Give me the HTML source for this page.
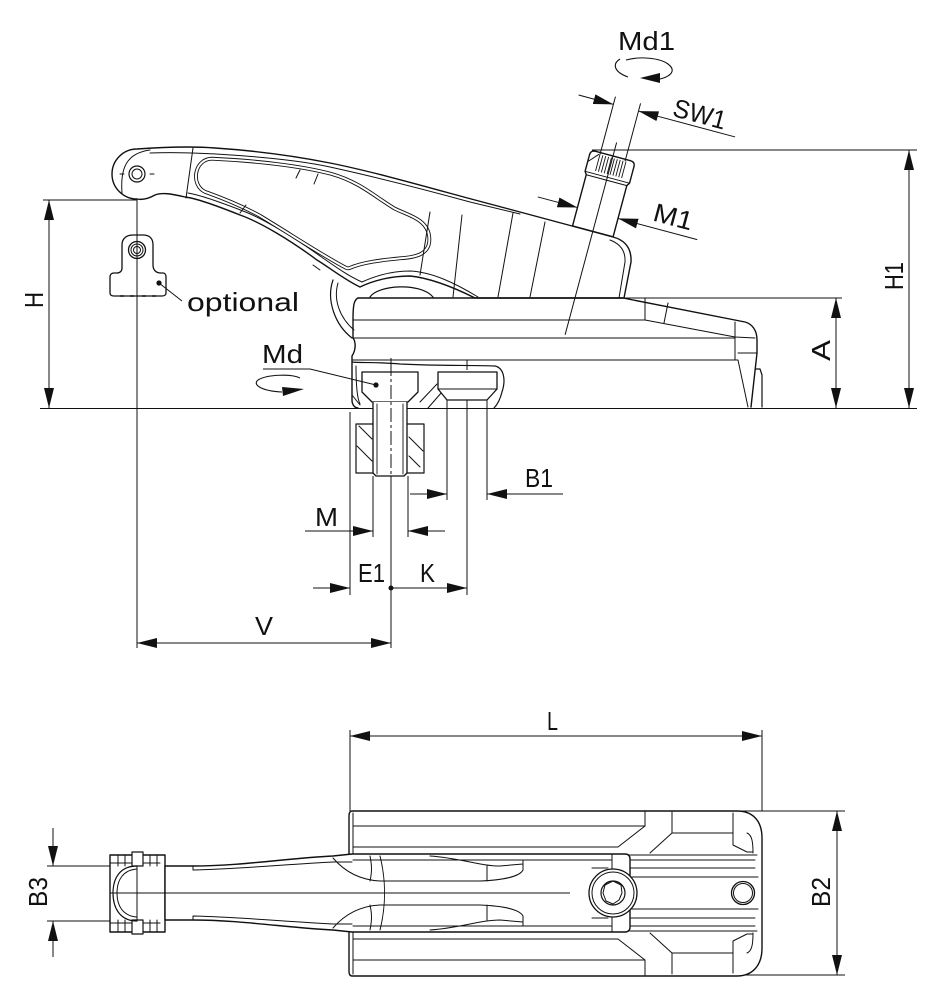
<!DOCTYPE html>
<html><head><meta charset="utf-8">
<style>
html,body{margin:0;padding:0;background:#fff;}
svg{display:block;}
text{font-family:"Liberation Sans","DejaVu Sans",sans-serif;font-size:26px;fill:#111;stroke:none;}
</style></head><body>
<svg width="928" height="1000" viewBox="0 0 928 1000" xmlns="http://www.w3.org/2000/svg">
<defs>
<marker id="ar" viewBox="0 0 20 10" refX="20" refY="5" markerWidth="20" markerHeight="10" markerUnits="userSpaceOnUse" orient="auto-start-reverse"><path d="M0,0L20,5L0,10z" fill="#111" stroke="none"/></marker>
</defs>
<rect width="928" height="1000" fill="#fff"/>

<!-- ============ DIMENSION / CENTER LINES (top view) ============ -->
<g fill="none" stroke="#111" stroke-width="1">
  <path d="M40,408.5H917"/>
  <path d="M43,200H137"/>
  <line x1="49" y1="200" x2="49" y2="408" marker-start="url(#ar)" marker-end="url(#ar)"/>
  <path d="M137,160V648"/>
  <path d="M592,150H917"/>
  <line x1="909" y1="150" x2="909" y2="408" marker-start="url(#ar)" marker-end="url(#ar)"/>
  <path d="M623,298H842"/>
  <line x1="836" y1="298" x2="836" y2="408" marker-start="url(#ar)" marker-end="url(#ar)"/>
  <line x1="137" y1="643" x2="391" y2="643" marker-start="url(#ar)" marker-end="url(#ar)"/>
  <path d="M391,358V476" stroke-dasharray="14,3,3,3"/>
  <path d="M391,476V648"/>
  <path d="M350,412V595"/>
  <path d="M467,360V408" stroke-dasharray="10,3,3,3"/>
  <path d="M467,408V595"/>
  <line x1="313" y1="588" x2="350" y2="588" marker-end="url(#ar)"/>
  <line x1="391" y1="588" x2="467" y2="588" marker-end="url(#ar)"/>
  <line x1="305" y1="531" x2="373" y2="531" marker-end="url(#ar)"/>
  <line x1="445" y1="531" x2="408" y2="531" marker-end="url(#ar)"/>
  <path d="M373,476V537M408,476V537"/>
  <line x1="410" y1="494" x2="447" y2="494" marker-end="url(#ar)"/>
  <line x1="563" y1="494" x2="487" y2="494" marker-end="url(#ar)"/>
  <path d="M447,400V500M487,400V500"/>
</g>
<circle cx="391" cy="588" r="2.5" fill="#111"/>

<!-- ============ HANDLE (top view) ============ -->
<g fill="none" stroke="#111" stroke-width="1.4" stroke-linejoin="round" stroke-linecap="round">
  <path fill="#fff" d="M137,149 C165,147 190,146 215,148 C260,151 300,157 330,163 C370,171 420,185 460,196 L520,212 L613,237 Q632,242 631,262 L624,298 L475,298 C455,288 430,278 410,276 C390,276 372,281 360,287 C345,280 330,268 317,260 C290,240 260,222 240,215 C215,205 195,198 185,197 C172,194 162,192 155,195 C148,199 142,200 137,199 A25,25 0 0,1 137,149 Z"/>
  <path stroke-width="1" d="M150,153 C200,151 290,158 330,167 C380,178 430,191 470,202 L520,214"/>
  <path stroke-width="1" d="M188,193 C200,195 220,202 243,211 C262,218 292,236 320,256 C333,265 348,276 362,282 C375,276 392,271 410,271 C432,272 455,283 478,297"/>
  <path stroke-width="1" d="M610,240 Q626,246 625,262 L619,298"/>
  <path stroke-width="1" d="M193,148 L186,198"/>
  <path stroke-width="1" d="M150,150 C128,153 120,166 122,193"/>
  <circle cx="137" cy="174" r="8" stroke-width="1.2"/>
  <circle cx="137" cy="174" r="5" stroke-width="1"/>
  <path stroke-width="1" d="M120,174h4M150,174h4"/>
  <g>
    <path d="M212,163 C255,165 300,170 330,178 C358,186 372,200 392,212 C405,219 424,222 425,238 C426,251 414,253 400,254 C380,256 362,258 348,264 C325,252 295,232 262,212 C238,199 218,192 207,188 C196,183 199,163 212,163 Z" stroke="#111" stroke-width="12.4"/>
    <path d="M212,163 C255,165 300,170 330,178 C358,186 372,200 392,212 C405,219 424,222 425,238 C426,251 414,253 400,254 C380,256 362,258 348,264 C325,252 295,232 262,212 C238,199 218,192 207,188 C196,183 199,163 212,163 Z" stroke="#fff" stroke-width="10.6"/>
    <path d="M212,163 C255,165 300,170 330,178 C358,186 372,200 392,212 C405,219 424,222 425,238 C426,251 414,253 400,254 C380,256 362,258 348,264 C325,252 295,232 262,212 C238,199 218,192 207,188 C196,183 199,163 212,163 Z" stroke="#111" stroke-width="6.6"/>
    <path d="M212,163 C255,165 300,170 330,178 C358,186 372,200 392,212 C405,219 424,222 425,238 C426,251 414,253 400,254 C380,256 362,258 348,264 C325,252 295,232 262,212 C238,199 218,192 207,188 C196,183 199,163 212,163 Z" stroke="#fff" stroke-width="4.8" fill="#fff"/>
  </g>
  <path stroke-width="1" d="M430,212 L420,275M462,215 L453,297M513,213 L498,297M545,222 L530,297"/>
  <path stroke-width="1" d="M300,170 L296,178M318,174 L314,184M240,213 L246,205"/>
  <path stroke-width="1.2" d="M370,297 C378,285 420,282 433,297"/>
  <path stroke-width="1.2" d="M333,280 C326,300 335,325 352,338"/>
  <path stroke-width="1" d="M338,283 C333,300 340,318 354,330"/>
  <path stroke-width="1" d="M313,265 L320,270"/>
</g>

<!-- ============ SCREW M1 (rotated) ============ -->
<g transform="translate(613,156) rotate(15)" fill="none" stroke="#111" stroke-linejoin="round">
  <path fill="#fff" stroke-width="1.4" d="M-23,22 V5 Q-23,0 -18,0 H18 Q23,0 23,5 V22 L21,25 V78 H-21 V25 Z"/>
  <path stroke-width="1" d="M-23,22 H23M-21,25 H21M-23,12 L-14,2"/>
  <path stroke-width="0.9" d="M-13,2V19M-10,2V19M-7,2V19M-4,2V19M-1,2V19M2,2V19M5,2V19M8,2V19M11,2V19M14,2V19"/>
  <path stroke-width="1" d="M0,-14V185"/>
  <path stroke-width="1" d="M-13,-58V2M13,-58V2"/>
  <line stroke-width="1" x1="-49" y1="-50" x2="-13" y2="-50" marker-end="url(#ar)"/>
  <line stroke-width="1" x1="113" y1="-50" x2="13" y2="-50" marker-end="url(#ar)"/>
  <line stroke-width="1" x1="-62" y1="59" x2="-21" y2="59" marker-end="url(#ar)"/>
  <line stroke-width="1" x1="103" y1="59" x2="21" y2="59" marker-end="url(#ar)"/>
  <text x="46" y="-54" textLength="54" lengthAdjust="spacingAndGlyphs">SW1</text>
  <text x="54" y="52" textLength="40" lengthAdjust="spacingAndGlyphs">M1</text>
</g>

<!-- ============ BASE BLOCK (top view) ============ -->
<g fill="none" stroke="#111" stroke-width="1.4" stroke-linejoin="round" stroke-linecap="round">
  <path d="M358,298 L623,298 L745,322 C752,324 757,330 757,340 L757,353 L751,407"/>
  <path d="M358,298 C354,300 353,305 353,320 L353,338 C356,342 356,350 352,356 L352,400 C352,405 355,408 358,408"/>
  <path stroke-width="1" d="M353,320 H645 L735,337M353,338 H735M352,360 H738M645,298 V320M668,303 L664,323M735,322 V360M738,360 L748,407M738,353 H757M735,337 L755,338"/>
  <path stroke-width="1.2" d="M756,369 H760 L762,375 V407"/>
  <path stroke-width="1.2" d="M352,362 C360,363 380,362 400,364 C440,366 470,365 495,366 C504,368 506,380 502,392 C500,400 497,405 494,408"/>
  <path stroke-width="1" d="M356,366 C356,372 356,396 360,404"/>
  <path fill="#fff" stroke-width="1.3" d="M362,372 H418 V392 L408,402 H372 L362,392 Z"/>
  <path stroke-width="1" d="M352,395 L360,405M420,402 L437,384M428,408 L442,392"/>
  <path fill="#fff" stroke-width="1.3" d="M438,372 H497 V389 L487,400 H447 L438,389 Z"/>
  <path stroke-width="1" d="M447,400 V408M487,400 V408M438,389 H497"/>
  <rect x="356" y="424" width="68" height="49" stroke-width="1.2"/>
  <path stroke-width="1" d="M359,426 L372,439M357,446 L372,461M409,437 L423,451M409,456 L420,467"/>
  <path fill="#fff" stroke-width="1.3" d="M373,402 V473 L376,476 H404 L407,473 V402"/>
  <path stroke-width="0.9" d="M377,404 V474M403,404 V474"/>
</g>
<path d="M391,362V476" stroke="#111" stroke-width="1" stroke-dasharray="14,3,3,3" fill="none"/>
<path d="M263,369 H310 L376,385" fill="none" stroke="#111" stroke-width="1"/>
<circle cx="376" cy="385" r="2.6" fill="#111"/>
<path d="M300,378 C292,374 268,374 258,380 C252,385 262,391 282,392" fill="none" stroke="#111" stroke-width="1.1"/>
<path d="M282,387 L304,389 L283,396 Z" fill="#111"/>
<path d="M620,59 C612,64 614,72 628,77 M660,79 C672,76 676,70 668,64 C660,58 640,56 626,60" fill="none" stroke="#111" stroke-width="1.1"/>
<path d="M640,78 L660,73 L660,83 Z" fill="#111"/>

<!-- ============ OPTIONAL PART ============ -->
<g fill="none" stroke="#111" stroke-width="1.3" stroke-linejoin="round">
  <path fill="#fff" d="M122,268 V245 C122,238 127,235 133,235 H143 C149,235 153,238 153,245 V265 C153,270 156,273 161,273 H163 C165,273 166,275 166,277 V293 C166,295 164,296 162,296 H114 C111,296 110,295 110,293 V277 C110,275 111,273 114,273 H117 C120,273 122,271 122,268 Z"/>
  <circle cx="137" cy="250" r="8.5"/>
  <circle cx="137" cy="250" r="6" stroke-width="1"/>
  <circle cx="137" cy="250" r="3.5" stroke-width="1"/>
  <path stroke-width="1" d="M137,235V297"/>
  <path stroke-width="1" d="M159,283 L182,301"/>
  <path stroke-width="1.6" d="M120,296h4M130,296h4M142,296h4M152,296h4"/>
</g>
<circle cx="159" cy="283" r="2.6" fill="#111"/>

<!-- ============ BOTTOM VIEW ============ -->
<g fill="none" stroke="#111" stroke-width="1">
  <path d="M350,730V811M762,730V811"/>
  <line x1="350" y1="736" x2="762" y2="736" marker-start="url(#ar)" marker-end="url(#ar)"/>
  <path d="M740,811H845M740,975H845"/>
  <line x1="837" y1="811" x2="837" y2="975" marker-start="url(#ar)" marker-end="url(#ar)"/>
  <path d="M47,866H112M47,921H112"/>
  <line x1="53" y1="828" x2="53" y2="866" marker-end="url(#ar)"/>
  <line x1="53" y1="957" x2="53" y2="921" marker-end="url(#ar)"/>
</g>
<g fill="none" stroke="#111" stroke-width="1.4" stroke-linejoin="round" stroke-linecap="round">
  <path fill="#fff" d="M352,811 H737 C752,811 762,820 762,838 V948 C762,966 752,976 737,976 H352 C350,976 349,974 349,971 V816 C349,813 350,811 352,811 Z"/>
  <path stroke-width="1" d="M353,813 V974"/>
  <path stroke-width="1" d="M353,826 H645M353,847 H618M618,847 L645,826 V811M650,853 L672,833 V812M672,833 H733M733,813 V845 L747,852 H753M747,833 C752,835 753,842 753,853"/>
  <path stroke-width="1" d="M353,960 H645M353,939 H618M618,939 L645,960 V975M650,933 L672,953 V974M672,953 H733M733,973 V941 L747,934 H753M747,953 C752,951 753,944 753,933"/>
  <path stroke-width="1" d="M630,855 H757M630,860 H755M630,868 H755M630,877 H758M630,909 H758M630,918 H755M630,926 H755M630,931 H757"/>
  <circle cx="743" cy="893" r="11.5" stroke-width="1.3"/>
  <circle cx="743" cy="893" r="9.5" stroke-width="1"/>
  <path fill="#fff" d="M110,855 H165 V932 H110 Z"/>
  <path fill="#fff" d="M165,866 H193 C240,866 290,858 333,856 L352,854 H625 Q630,854 630,859 V927 Q630,932 625,932 H352 L333,930 C290,928 240,920 193,920 H165 Z"/>
  <path stroke-width="1" d="M193,870 C240,869 290,864 333,862 H352M193,916 C240,917 290,922 333,924 H352M193,866 V870M193,916 V920"/>
  <path stroke-width="1" d="M353,860 H612M353,926 H612"/>
  <path stroke-width="1" d="M333,858 C345,872 360,880 380,881 L480,881 C505,880 520,876 523,870 L523,860M430,856 C460,858 480,866 500,866 L523,864M370,856 C372,866 372,872 370,881M487,866 V881"/>
  <path stroke-width="1" d="M333,928 C345,914 360,906 380,905 L480,905 C505,906 520,910 523,916 L523,926M430,930 C460,928 480,920 500,920 L523,922M370,930 C372,920 372,914 370,905M487,920 V905"/>
  <path stroke-width="1" d="M380,856 C386,880 386,906 380,930"/>
  <path stroke-width="1" d="M612,854 V870M612,916 V932M592,868 H608M592,918 H608"/>
  <circle cx="613" cy="893" r="24" fill="#fff" stroke-width="1.3"/>
  <circle cx="613" cy="893" r="21" stroke-width="1"/>
  <circle cx="613" cy="893" r="12" stroke-width="1.2"/>
  <path stroke-width="1" d="M605,885 L613,881 L621,885 L622,893 L619,900 L613,904 L606,901 L603,893 Z"/>
  <path stroke-width="1" d="M110,863 H160M110,923 H160M118,855V866M125,855V866M150,855V866M157,855V866M118,920V932M125,920V932M150,920V932M157,920V932"/>
  <path stroke-width="1.2" fill="#fff" d="M132,852 H143 V866 H132 Z M132,920 H143 V934 H132 Z"/>
  <path stroke-width="1.2" d="M137,866 C120,866 113,878 113,893 C113,908 120,921 137,921"/>
  <path stroke-width="1" d="M137,869 C123,870 117,880 117,893 C117,906 123,916 137,917M137,866 V921"/>
</g>
<path d="M110,893 H570" stroke="#111" stroke-width="1" fill="none"/>

<!-- ============ LABELS ============ -->
<text x="618" y="50" font-size="28" textLength="57" lengthAdjust="spacingAndGlyphs">Md1</text>
<text x="262" y="363" textLength="41" lengthAdjust="spacingAndGlyphs">Md</text>
<text x="187" y="311" font-size="30" textLength="112" lengthAdjust="spacingAndGlyphs">optional</text>
<text transform="translate(903,290) rotate(-90)" textLength="28" lengthAdjust="spacingAndGlyphs">H1</text>
<text transform="translate(830,361) rotate(-90)" textLength="21" lengthAdjust="spacingAndGlyphs">A</text>
<text transform="translate(43,308) rotate(-90)" textLength="16" lengthAdjust="spacingAndGlyphs">H</text>
<text x="525" y="487" textLength="28" lengthAdjust="spacingAndGlyphs">B1</text>
<text x="315" y="526" textLength="23" lengthAdjust="spacingAndGlyphs">M</text>
<text x="358" y="582" textLength="27" lengthAdjust="spacingAndGlyphs">E1</text>
<text x="420" y="582" textLength="15" lengthAdjust="spacingAndGlyphs">K</text>
<text x="255" y="635" textLength="18" lengthAdjust="spacingAndGlyphs">V</text>
<text x="547" y="730" textLength="11" lengthAdjust="spacingAndGlyphs">L</text>
<text transform="translate(830,907) rotate(-90)" textLength="30" lengthAdjust="spacingAndGlyphs">B2</text>
<text transform="translate(47,907) rotate(-90)" textLength="30" lengthAdjust="spacingAndGlyphs">B3</text>
</svg>
</body></html>
